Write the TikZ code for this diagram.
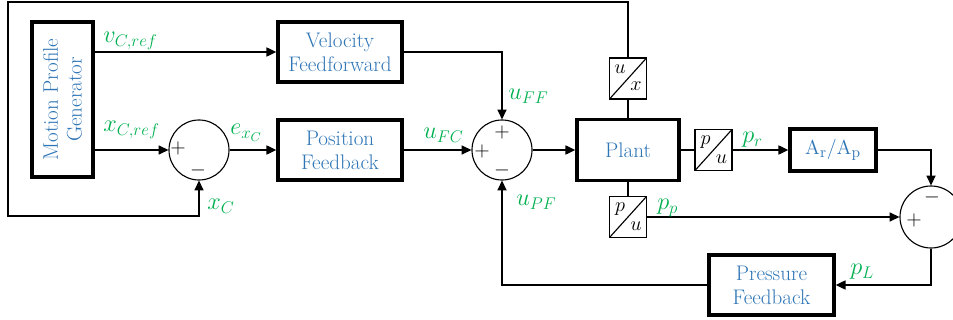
\documentclass[tikz,border=0pt]{standalone}
\usepackage{amsmath}
\usepackage{tikz}
\usetikzlibrary{positioning,arrows.meta,calc}
\definecolor{ctrlblue}{HTML}{2E75B6}
\definecolor{siggreen}{HTML}{00B050}

\begin{document}
\begin{tikzpicture}[
    x=0.025cm, y=-0.025cm,
    % --- Node styles ---
    block/.style={
      rectangle, draw=black, line width=2.4pt,
      minimum height=1.5cm, minimum width=3.1cm,
      font=\fontsize{15}{17}\selectfont, text=ctrlblue,
      align=center, inner sep=2pt,
    },
    summer/.style={circle, draw=black, line width=0.8pt, minimum size=1.5cm, inner sep=0pt},
    ratio/.style={
      rectangle, draw=black, line width=0.8pt,
      minimum width=0.925cm, minimum height=1.025cm, inner sep=0pt,
      path picture={\draw[line width=0.8pt] (path picture bounding box.south west)
        -- (path picture bounding box.north east);},
    },
    ratiotxt/.style={font=\fontsize{15}{17}\selectfont, inner sep=0pt},
    sign/.style={font=\fontsize{15}{17}\selectfont, inner sep=0pt},
    % --- Arrow styles ---
    wire/.style={line width=0.9pt, color=black},
    flow/.style={wire, -{Triangle[length=7pt, width=6.5pt]}},
    % --- Label style ---
    sig/.style={font=\fontsize{18}{20}\selectfont, text=siggreen, inner sep=0pt, anchor=base west},
  ]
    \useasboundingbox (0,0) rectangle (953,320);

    % ===================== BLOCKS =====================
    \node[block, rotate=90, minimum width=3.875cm, minimum height=1.525cm] (gen) at (62.5,99.5)
      {Motion Profile\\Generator};
    \node[block] (vff)  at (340,52)  {Velocity\\Feedforward};
    \node[block] (pfb)  at (340,150) {Position\\Feedback};
    \node[summer] (sum1) at (199,150) {};
    \node[summer] (sum2) at (502,150) {};
    \node[block, minimum width=2.55cm, minimum height=1.525cm] (plant) at (628,150) {Plant};

    % ===================== SENSORS =====================
    \node[ratio] (ux)  at (628,78.5)  {};
    \node[ratio] (pur) at (713.5,150) {};
    \node[ratio] (pup) at (628,217)  {};
    \node[ratiotxt] at ($(ux.center)+(-8,-9)$)  {$u$};
    \node[ratiotxt] at ($(ux.center)+(8,8)$)    {$x$};
    \node[ratiotxt] at ($(pur.center)+(-8,-8)$) {$p$};
    \node[ratiotxt] at ($(pur.center)+(8,9)$)   {$u$};
    \node[ratiotxt] at ($(pup.center)+(-8,-8)$) {$p$};
    \node[ratiotxt] at ($(pup.center)+(8,9)$)   {$u$};

    % ===================== PRESSURE PATH =====================
    \node[block, minimum width=2.15cm, minimum height=1.05cm] (area) at (833,150)
      {$\mathrm{A_r/A_p}$};
    \node[summer, minimum size=1.55cm] (sum3) at (931,217) {};
    \node[block, minimum width=3.125cm] (pfbk) at (771.5,285) {Pressure\\Feedback};

    % ===================== SIGNS =====================
    \node[sign] at (178,148) {$+$};
    \node[sign] at (198,170) {$-$};
    \node[sign] at (502,132) {$+$};
    \node[sign] at (482,151) {$+$};
    \node[sign] at (502,170) {$-$};
    \node[sign] at (932,197) {$-$};
    \node[sign] at (914,220) {$+$};

    % ===================== ARROWS: FORWARD PATH =====================
    \draw[flow] (gen.south |- vff.west) -- (vff.west);
    \draw[flow] (gen.south |- sum1.west) -- (sum1.west);
    \draw[flow] (sum1.east) -- (pfb.west);
    \draw[flow] (vff.east) -| (sum2.north);
    \draw[flow] (pfb.east) -- (sum2.west);
    \draw[flow] (sum2.east) -- (plant.west);

    % ===================== MEASUREMENTS =====================
    \draw[wire] (plant.north) -- (ux.south);
    \draw[wire] (plant.east) -- (pur.west);
    \draw[wire] (plant.south) -- (pup.north);
    \draw[flow] (pur.east) -- (area.west);
    \draw[flow] (area.east) -| (sum3.north);
    \draw[flow] (pup.east) -- (sum3.west);

    % ===================== FEEDBACK LOOPS =====================
    \coordinate (tl) at (8,2);
    \coordinate (bl) at (8,216);
    \draw[flow] (ux.north) |- (tl) -- (bl) -| (sum1.south);
    \draw[flow] (sum3.south) |- (pfbk.east);
    \draw[flow] (pfbk.west) -| (sum2.south);

    % ===================== SIGNAL LABELS =====================
    \node[sig] at (103,43)  {$v_{C,ref}$};
    \node[sig] at (103,132) {$x_{C,ref}$};
    \node[sig] at (230,135) {$e_{x_C}$};
    \node[sig] at (207,210) {$x_C$};
    \node[sig] at (508,100) {$u_{FF}$};
    \node[sig] at (423,139) {$u_{FC}$};
    \node[sig] at (516,206) {$u_{PF}$};
    \node[sig] at (742,143) {$p_r$};
    \node[sig] at (657,210) {$p_p$};
    \node[sig] at (850,275) {$p_L$};

  \end{tikzpicture}
\end{document}
